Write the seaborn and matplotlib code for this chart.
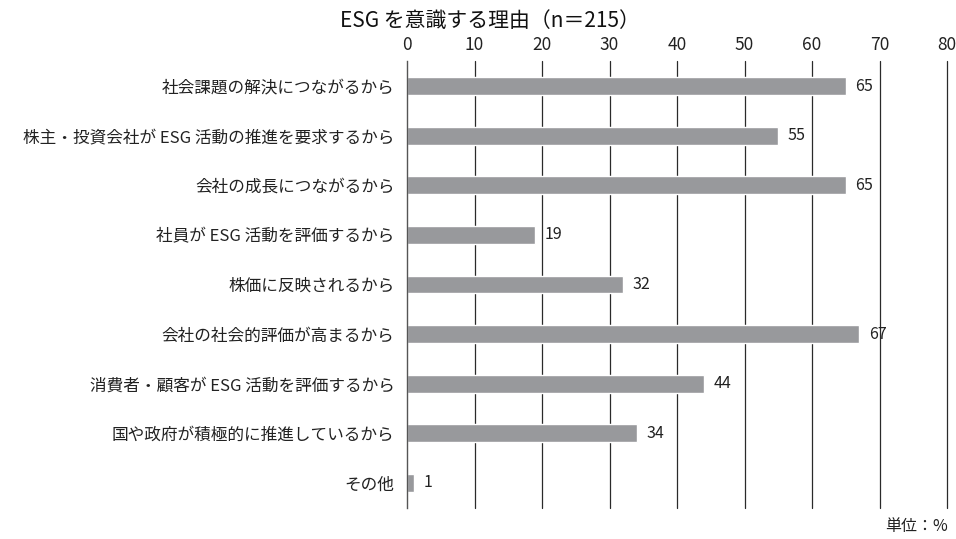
import matplotlib
matplotlib.use("Agg")
import matplotlib.pyplot as plt
import seaborn as sns
import pandas as pd

categories = [
    "社会課題の解決につながるから",
    "株主・投資会社が ESG 活動の推進を要求するから",
    "会社の成長につながるから",
    "社員が ESG 活動を評価するから",
    "株価に反映されるから",
    "会社の社会的評価が高まるから",
    "消費者・顧客が ESG 活動を評価するから",
    "国や政府が積極的に推進しているから",
    "その他",
]
values = [65, 55, 65, 19, 32, 67, 44, 34, 1]
x_ticks = [0, 10, 20, 30, 40, 50, 60, 70, 80]
title = "ESG を意識する理由（n＝215）"
unit_label = "単位：%"

sns.set_theme(style="white")
plt.rcParams["font.family"] = ["Noto Sans CJK JP", "DejaVu Sans"]

df = pd.DataFrame({"reason": categories, "pct": values})

fig = plt.figure(figsize=(9.56, 5.39), dpi=100)
ax = fig.add_axes([407 / 956, 1 - 507.8 / 539, (947 - 407) / 956, (507.8 - 61.2) / 539])

sns.barplot(data=df, x="pct", y="reason", orient="h", color="#98999c",
            width=0.36, saturation=1, ax=ax, order=categories)

ax.set_xlim(0, 80)
ax.set_ylim(8.5, -0.5)
ax.set_xticks(x_ticks)
ax.xaxis.tick_top()
ax.tick_params(axis="x", length=0, pad=5, labelsize=12.5, colors="#222222")
ax.tick_params(axis="y", length=0, pad=9, labelsize=12, colors="#222222")
ax.set_xlabel("")
ax.set_ylabel("")
for xv in x_ticks[1:]:
    ax.axvline(xv, color="#2a2a2a", lw=0.9, zorder=0, clip_on=False)
for s in ["top", "right", "bottom"]:
    ax.spines[s].set_visible(False)
ax.spines["left"].set_color("#555555")
ax.spines["left"].set_linewidth(1.0)

for cont in ax.containers:
    ax.bar_label(cont, labels=[str(v) for v in values], padding=7,
                 fontsize=11.5, color="#222222")

fig.text(490 / 956, 1 - 21 / 539, title, ha="center", va="center",
         fontsize=15, color="#111111")
fig.text(948 / 956, 1 - 527 / 539, unit_label, ha="right", va="center",
         fontsize=11.5, color="#222222")

fig.savefig("out.png", dpi=100)
